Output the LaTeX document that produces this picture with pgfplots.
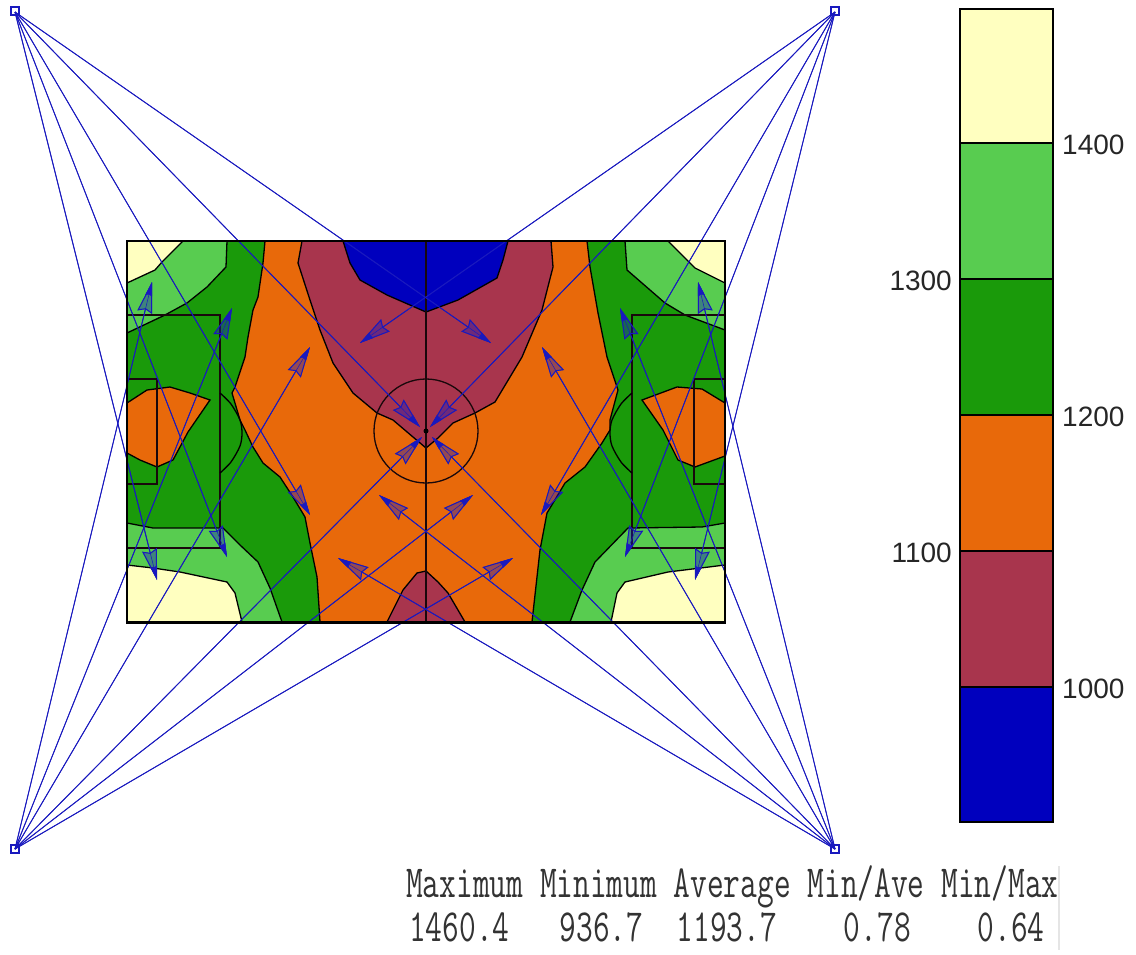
\documentclass[border=0pt]{standalone}
\usepackage{fontspec}
\setmainfont{Liberation Sans}
\usepackage{pgfplots}
\pgfplotsset{compat=1.18}
\usetikzlibrary{arrows.meta}
\definecolor{cy}{RGB}{255,255,192}
\definecolor{cl}{RGB}{88,204,80}
\definecolor{cd}{RGB}{26,154,10}
\definecolor{co}{RGB}{232,105,10}
\definecolor{cp}{RGB}{168,53,77}
\definecolor{cb}{RGB}{0,0,190}
\definecolor{ray}{RGB}{25,25,190}
\newcommand{\reg}[2]{\addplot[fill=#1,draw=black,line width=1.3pt,forget plot] coordinates {#2} -- cycle;}
\newcommand{\fld}[1]{\addplot[draw=black!85!cp,line width=1.3pt,forget plot] coordinates {#1};}
\newcommand{\ray}[4]{%
  \addplot[ray,line width=.5pt,opacity=.4,forget plot,-{Stealth[length=31pt,width=15pt,inset=3pt]}] coordinates {(#1,#2) (#3,#4)};%
  \addplot[ray,line width=.5pt,forget plot,-{Stealth[length=14pt,width=7pt,inset=1pt]}] coordinates {(#1,#2) (#3,#4)};%
  \addplot[ray,line width=1pt,forget plot,-{Stealth[open,length=31pt,width=15pt,inset=3pt]}] coordinates {(#1,#2) (#3,#4)};%
}
\begin{document}
\begin{tikzpicture}
\begin{axis}[
  at={(0,0)},anchor=south west,
  width=1136pt,height=954pt,scale only axis,
  xmin=0,xmax=1136,ymin=0,ymax=954,y dir=reverse,
  axis lines=none,ticks=none,clip=false]
\path[use as bounding box] (axis cs:0,0) rectangle (axis cs:1136,954);
% base
\reg{co}{(127,241)(725,241)(725,622)(127,622)}
% dark green sides
\reg{cd}{(127,241)(265,241)(263,263)(258,297)(253,310)(248,337)(245,357)(235,387)(232,393)(240,420)(245,430)(253,447)(263,463)(280,477)(293,497)(305,517)(310,543)(317,577)(320,622)(127,622)}
\reg{cd}{(725,241)(587,241)(590,267)(598,313)(607,357)(618,390)(610,420)(610,430)(602,443)(585,467)(565,483)(547,513)(540,550)(532,622)(725,622)}
% orange islands
\reg{co}{(127,403)(147,390)(170,387)(190,393)(210,400)(188,432)(173,460)(157,467)(140,460)(127,453)}
\reg{co}{(725,403)(702,389)(677,387)(642,400)(663,430)(678,460)(695,467)(725,456)}
% light green corners
\reg{cl}{(127,241)(227,241)(226,267)(207,287)(187,303)(165,315)(127,333)}
\reg{cl}{(725,241)(625,241)(627,270)(665,303)(685,315)(725,330)}
\reg{cl}{(127,523)(153,528)(223,528)(240,545)(258,562)(270,588)(282,622)(127,622)}
\reg{cl}{(725,523)(702,527)(628,528)(595,562)(582,590)(570,622)(725,622)}
% yellow corners
\reg{cy}{(127,241)(183,241)(162,262)(155,270)(127,283)}
\reg{cy}{(725,241)(668,241)(695,268)(725,283)}
\reg{cy}{(127,565)(153,568)(180,572)(227,582)(235,593)(242,622)(127,622)}
\reg{cy}{(725,565)(668,572)(625,582)(617,593)(611,622)(725,622)}
% purple
\reg{cp}{(302,241)(298,263)(310,300)(320,330)(333,363)(353,393)(377,413)(393,420)(413,437)(426,448)(438,438)(453,423)(475,413)(495,402)(522,357)(542,310)(553,267)(551,241)}
\reg{cp}{(387,622)(403,590)(417,573)(426,571)(438,582)(448,593)(465,622)}
% blue
\reg{cb}{(343,241)(350,263)(360,280)(387,295)(426,312)(458,300)(497,278)(503,260)(508,241)}
% field markings
\fld{(426,241)(426,622)}
\draw[black!85!cp,line width=1.3pt] (axis cs:426,431) circle [radius=52pt];
\fill[black] (axis cs:426,431) circle [radius=2.5pt];
\fld{(127,315)(220,315)(220,548)(127,548)}
\fld{(127,379)(157,379)(157,484)(127,484)}
\fld{(725,315)(632,315)(632,548)(725,548)}
\fld{(725,379)(694,379)(694,484)(725,484)}
\addplot[black,line width=1.3pt,smooth,forget plot] coordinates {(220,393)(231,404)(240,420)(242,433)(240,446)(231,462)(220,473)};
\addplot[black,line width=1.3pt,smooth,forget plot] coordinates {(632,393)(621,404)(612,420)(610,433)(612,446)(621,462)(632,473)};
% rays from top left
\ray{15}{12}{157}{580}
\ray{15}{12}{227}{557}
\ray{15}{12}{310}{515}
\ray{15}{12}{420}{427}
\ray{15}{12}{491}{343}
% rays from top right
\ray{835}{12}{695}{580}
\ray{835}{12}{625}{557}
\ray{835}{12}{541}{515}
\ray{835}{12}{430}{427}
\ray{835}{12}{360}{343}
% rays from bottom left
\ray{15}{849}{152}{282}
\ray{15}{849}{232}{308}
\ray{15}{849}{310}{347}
\ray{15}{849}{422}{437}
\ray{15}{849}{473}{495}
\ray{15}{849}{513}{558}
% rays from bottom right
\ray{835}{849}{698}{282}
\ray{835}{849}{620}{308}
\ray{835}{849}{542}{347}
\ray{835}{849}{432}{437}
\ray{835}{849}{379}{495}
\ray{835}{849}{338}{558}
% sources
\addplot[only marks,mark=square,mark size=4pt,mark options={ray,line width=2.2pt},forget plot] coordinates {(15,11)(835,11)(15,849)(835,849)};
% frame
\addplot[black,line width=2pt,forget plot] coordinates {(127,622)(127,241)(725,241)(725,622)};
\addplot[black,line width=3pt,forget plot] coordinates {(126,622)(726,622)};
% colour bar
\reg{cy}{(960,9)(1053,9)(1053,143)(960,143)}
\reg{cl}{(960,143)(1053,143)(1053,279)(960,279)}
\reg{cd}{(960,279)(1053,279)(1053,415)(960,415)}
\reg{co}{(960,415)(1053,415)(1053,551)(960,551)}
\reg{cp}{(960,551)(1053,551)(1053,687)(960,687)}
\reg{cb}{(960,687)(1053,687)(1053,822)(960,822)}
\addplot[black,line width=2.2pt,forget plot] coordinates {(960,143)(1053,143)};
\addplot[black,line width=2.2pt,forget plot] coordinates {(960,279)(1053,279)};
\addplot[black,line width=2.2pt,forget plot] coordinates {(960,415)(1053,415)};
\addplot[black,line width=2.2pt,forget plot] coordinates {(960,551)(1053,551)};
\addplot[black,line width=2.2pt,forget plot] coordinates {(960,687)(1053,687)};
\tikzset{lab/.style={font=\fontsize{28}{30}\selectfont,text=black!85,inner sep=0pt}}
\node[lab,anchor=west] at (axis cs:1062,145) {1400};
\node[lab,anchor=east] at (axis cs:952,281) {1300};
\node[lab,anchor=west] at (axis cs:1062,417) {1200};
\node[lab,anchor=east] at (axis cs:952,553) {1100};
\node[lab,anchor=west] at (axis cs:1062,689) {1000};
% table
\tikzset{tab/.style={inner sep=0pt,anchor=base west,text=black!80}}
\node[tab] at (axis cs:406,897) {\scalebox{.706}[1]{\ttfamily\fontsize{46}{50}\selectfont Maximum Minimum Average Min/Ave Min/Max}};
\node[tab] at (axis cs:409,941) {\scalebox{.706}[1]{\ttfamily\fontsize{46}{50}\selectfont 1460.4\ \ \ 936.7\ \ 1193.7\ \ \ \ 0.78\ \ \ \ 0.64}};
\addplot[black!10,line width=1.5pt,forget plot] coordinates {(1059,866)(1059,950)};
\end{axis}
\end{tikzpicture}
\end{document}
